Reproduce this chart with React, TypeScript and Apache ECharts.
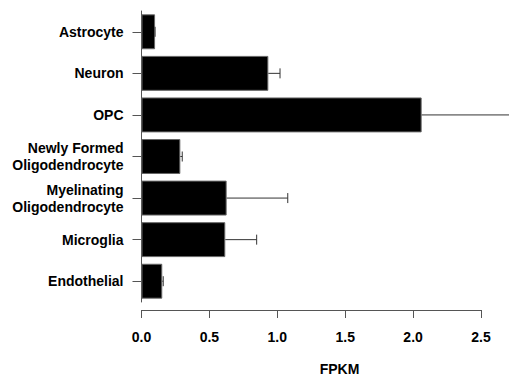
import React, { useEffect, useRef } from "react";
import * as echarts from "echarts";

const categories = [
  "Astrocyte",
  "Neuron",
  "OPC",
  "Newly Formed\nOligodendrocyte",
  "Myelinating\nOligodendrocyte",
  "Microglia",
  "Endothelial",
];
const values = [0.1, 0.934, 2.063, 0.286, 0.627, 0.617, 0.153];
const errorUpper = [0.1, 1.02, 2.75, 0.3, 1.077, 0.848, 0.16];
const xTicks = [0, 0.5, 1.0, 1.5, 2.0, 2.5];
const xName = "FPKM";

const FONT = "'Liberation Sans', Arial, Helvetica, sans-serif";
const AXIS = "#555";

export default function App() {
  const ref = useRef<HTMLDivElement>(null);
  useEffect(() => {
    if (!ref.current) return;
    const chart = echarts.init(ref.current, undefined, { renderer: "svg" });
    const errData = values.map((v, i) => [i, v, errorUpper[i]]);
    chart.setOption({
      animation: false,
      backgroundColor: "#fff",
      textStyle: { fontFamily: FONT },
      grid: { left: 141.5, right: 28, top: 11, bottom: 74 },
      xAxis: {
        type: "value",
        min: xTicks[0],
        max: xTicks[xTicks.length - 1],
        interval: 0.5,
        offset: 8,
        splitLine: { show: false },
        axisLine: { show: true, lineStyle: { color: AXIS, width: 1 } },
        axisTick: { show: true, length: 8, lineStyle: { color: AXIS } },
        axisLabel: {
          margin: 20,
          fontSize: 14,
          fontWeight: "bold",
          color: "#000",
          fontFamily: FONT,
          formatter: (v: number) => v.toFixed(1),
        },
      },
      yAxis: {
        type: "category",
        data: categories,
        inverse: true,
        axisLine: { show: true, lineStyle: { color: AXIS, width: 1 } },
        axisTick: { show: true, alignWithLabel: true, length: 9, lineStyle: { color: AXIS } },
        axisLabel: {
          margin: 18,
          fontSize: 14,
          fontWeight: "bold",
          color: "#000",
          lineHeight: 17,
          align: "right",
          fontFamily: FONT,
        },
      },
      graphic: [
        {
          type: "text",
          x: 339.5,
          y: 369,
          style: {
            text: xName,
            fontSize: 14,
            lineHeight: 14,
            fontWeight: "bold",
            fill: "#000",
            fontFamily: FONT,
            align: "center",
            verticalAlign: "middle",
          },
        },
      ],
      series: [
        {
          type: "bar",
          data: values,
          barCategoryGap: "16%",
          itemStyle: { color: "#000", borderColor: "#666", borderWidth: 1 },
        },
        {
          type: "custom",
          data: errData,
          clip: false,
          z: 3,
          renderItem: (params: any, api: any) => {
            const idx = api.value(0);
            const v = api.value(1);
            const up = api.value(2);
            const p0 = api.coord([v, idx]);
            const p1 = api.coord([up, idx]);
            const half = 5;
            const style = { stroke: "#333", lineWidth: 1 };
            return {
              type: "group",
              children: [
                { type: "line", shape: { x1: p0[0], y1: p0[1], x2: p1[0], y2: p1[1] }, style },
                { type: "line", shape: { x1: p1[0], y1: p1[1] - half, x2: p1[0], y2: p1[1] + half }, style },
              ],
            };
          },
          encode: { x: [1, 2], y: 0 },
        },
      ],
    });
    return () => chart.dispose();
  }, []);
  return <div ref={ref} style={{ position: "fixed", left: 0, top: 0, width: 509, height: 376 }} />;
}
